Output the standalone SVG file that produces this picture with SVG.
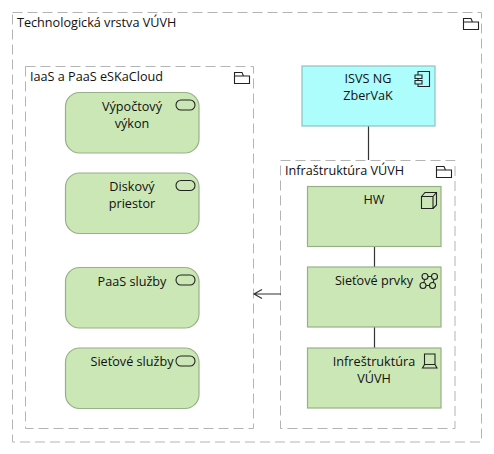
<svg xmlns="http://www.w3.org/2000/svg" width="494" height="454" viewBox="0 0 494 454">
<style>
text{font-family:"Open Sans","Noto Sans","Liberation Sans",sans-serif;font-size:12.65px;fill:#111;text-anchor:middle}
.l{text-anchor:start}
.g{fill:none;stroke:#b4b4b4;stroke-width:1;stroke-dasharray:10 5}
.t{fill:#cbe7b6;stroke:#98b088;stroke-width:1.2}
.a{fill:#adfdfd;stroke:#8fc0c0;stroke-width:1.2}
.i{fill:none;stroke:#222;stroke-width:1.1}
.c{fill:none;stroke:#333;stroke-width:1.2}
</style>
<defs>
<g id="folder"><path class="i" d="M0.500 11.500V0.500H8L9.500 4H15.500V11.500Z M0.500 4H9.500"/></g>
<rect id="svc" class="i" x="0" y="0" width="19" height="10" rx="5"/>
</defs>
<rect width="494" height="454" fill="#fff"/>
<g id="tech-layer"><rect class="g" x="12.500" y="12.500" width="469" height="429.500"/><text class="l" x="17" y="27">Technologická vrstva VÚVH</text><use href="#folder" x="463" y="18"/></g>
<g id="iaas-group"><rect class="g" x="25.500" y="66.500" width="228" height="362"/><text class="l" x="30" y="81">IaaS a PaaS eSKaCloud</text><use href="#folder" x="234" y="72"/></g>
<g id="infra-group"><rect class="g" x="280.500" y="160.500" width="174.500" height="268"/><text class="l" x="285" y="175">Infraštruktúra VÚVH</text><use href="#folder" x="436" y="166"/></g>
<g id="connectors">
<path class="c" d="M368.500 126V160M374.500 246V267M374.500 327V348"/>
<path class="c" d="M281 294H254M262 289.500L254 294L262 298.500"/>
</g>
<g id="vypoctovy"><rect class="t" x="65.500" y="92.500" width="133.500" height="60.500" rx="14"/><text x="132" y="111">Výpočtový</text><text x="132" y="127.500">výkon</text><use href="#svc" x="176" y="100"/></g>
<g id="diskovy"><rect class="t" x="65.500" y="173" width="133.500" height="60.500" rx="14"/><text x="132" y="191">Diskový</text><text x="132" y="208">priestor</text><use href="#svc" x="176" y="180.500"/></g>
<g id="paas"><rect class="t" x="65.500" y="267.500" width="133.500" height="60.500" rx="14"/><text x="132" y="285.500">PaaS služby</text><use href="#svc" x="176" y="275"/></g>
<g id="sietove-sluzby"><rect class="t" x="65.500" y="348" width="133.500" height="60.500" rx="14"/><text x="132" y="366">Sieťové služby</text><use href="#svc" x="176" y="356"/></g>
<g id="isvs"><rect class="a" x="302" y="66" width="133" height="60"/><text x="368" y="82.500">ISVS NG</text><text x="368" y="100">ZberVaK</text><path class="i" d="M418 71.500H429.500V86.500H418Z"/><path class="i" style="fill:#adfdfd" d="M415 75H422V78.500H415ZM415 80.500H422V84H415Z"/></g>
<g id="hw"><rect class="t" x="307.500" y="186.500" width="133.500" height="60"/><text x="374" y="203.500">HW</text><path class="i" d="M421.500 196.500H433V208.500H421.500ZM421.500 196.500L425 192.500H436.500V205L433 208.500M433 196.500L436.500 192.500"/></g>
<g id="sietove-prvky"><rect class="t" x="307.500" y="267" width="133.500" height="60"/><text x="374" y="285">Sieťové prvky</text><g class="i"><circle cx="425" cy="276.500" r="3"/><circle cx="434.500" cy="276.500" r="3"/><circle cx="423" cy="285.500" r="3"/><circle cx="432.500" cy="285.500" r="3"/><path d="M428 276.500H431.500M424 282.600L424.500 279.500M433.200 282.600L434 279.500M426 285.500H429.500"/></g></g>
<g id="infra-node"><rect class="t" x="307.500" y="348" width="133.500" height="60"/><text x="374" y="365.500">Infreštruktúra</text><text x="374" y="383">VÚVH</text><path class="i" d="M424.500 354H435V364.500H424.500ZM422.500 368H437L435 364.500H424.500Z"/></g>
</svg>
